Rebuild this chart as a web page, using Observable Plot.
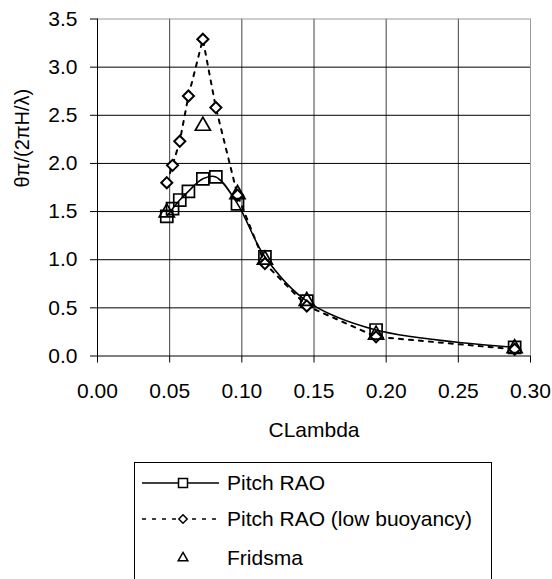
<!DOCTYPE html>
<html>
<head>
<meta charset="utf-8">
<script src="https://cdn.jsdelivr.net/npm/d3@7"></script>
<script src="https://cdn.jsdelivr.net/npm/@observablehq/plot@0.6"></script>
<style>
  html, body { margin: 0; padding: 0; width: 552px; height: 579px; overflow: hidden; background: white; }
  #chart { position: absolute; left: 0; top: 0; }
  #legend { position: absolute; left: 134px; top: 462px; width: 358px; height: 150px; border: 1px solid black; box-sizing: border-box; background: white; }
</style>
</head>
<body>
<div id="chart"></div>
<div id="legend"></div>
<script>
// ---- data ----
const clambda      = [0.048, 0.052, 0.057, 0.063, 0.073, 0.082, 0.097, 0.116, 0.145, 0.193, 0.289];
const pitchRAO     = [1.45, 1.53, 1.62, 1.71, 1.84, 1.86, 1.58, 1.03, 0.57, 0.27, 0.09];
const pitchRAOLow  = [1.80, 1.98, 2.23, 2.70, 3.29, 2.58, 1.67, 0.96, 0.52, 0.20, 0.07];
const fridsmaX     = [0.048, 0.073, 0.097, 0.116, 0.145, 0.193, 0.289];
const fridsmaY     = [1.49, 2.39, 1.68, 1.00, 0.57, 0.22, 0.08];
const xTicks       = [0, 0.05, 0.10, 0.15, 0.20, 0.25, 0.30];
const yTicks       = [0, 0.5, 1.0, 1.5, 2.0, 2.5, 3.0, 3.5];
const seriesNames  = ["Pitch RAO", "Pitch RAO (low buoyancy)", "Fridsma"];
const xLabel = "CLambda";
const yLabel = "θπ/(2πH/λ)";

const pitch = clambda.map((x, i) => ({x, y: pitchRAO[i]}));
const low = clambda.map((x, i) => ({x, y: pitchRAOLow[i]}));
const frid = fridsmaX.map((x, i) => ({x, y: fridsmaY[i]}));

const font = "'Liberation Sans', Arial, sans-serif";

const chart = Plot.plot({
  width: 552,
  height: 440,
  marginLeft: 97,
  marginRight: 22,
  marginTop: 18.5,
  marginBottom: 84.5,
  style: { fontFamily: font, fontSize: "21px", color: "black", background: "white", overflow: "visible" },
  x: { domain: [0, 0.30] },
  y: { domain: [0, 3.5] },
  marks: [
    Plot.gridX(xTicks.slice(1, -1), { stroke: "#404040", strokeOpacity: 1 }),
    Plot.gridY(yTicks.slice(1, -1), { stroke: "black", strokeOpacity: 1 }),
    Plot.ruleX([0.30], { stroke: "#9a9a9a" }),
    Plot.ruleY([3.5], { stroke: "#9a9a9a" }),
    Plot.ruleX([0], { stroke: "black" }),
    Plot.ruleY([0], { stroke: "black" }),
    Plot.axisX({ ticks: xTicks, tickSize: 7, tickPadding: 20, tickFormat: d3.format(".2f"), label: null, fontSize: 21 }),
    Plot.axisY({ ticks: yTicks, tickSize: 7, tickPadding: 13, tickFormat: d3.format(".1f"), label: null, fontSize: 21 }),
    Plot.text([xLabel], { frameAnchor: "bottom", dy: 74, lineAnchor: "middle", fontSize: 21 }),
    Plot.text([yLabel], { frameAnchor: "left", dx: -75, rotate: -90, fontSize: 20 }),
    Plot.line(low, { x: "x", y: "y", stroke: "black", strokeWidth: 2, strokeDasharray: "4,6" }),
    Plot.line(pitch, { x: "x", y: "y", stroke: "black", strokeWidth: 1.6, curve: "catmull-rom" }),
    Plot.dot(pitch, { x: "x", y: "y", symbol: "square", r: 6.8, stroke: "black", strokeWidth: 1.7, fill: "none" }),
    Plot.dot(low, { x: "x", y: "y", symbol: "diamond2", r: 5, stroke: "black", strokeWidth: 2, fill: "white" }),
    Plot.dot(frid, { x: "x", y: "y", symbol: "triangle", r: 5.6, stroke: "black", strokeWidth: 1.7, fill: "none" })
  ]
});
document.getElementById("chart").appendChild(chart);

// ---- legend ----
const leg = d3.select("#legend").append("svg").attr("width", 356).attr("height", 148)
  .style("font-family", font).style("font-size", "21px");
const rows = [
  { name: seriesNames[0], y: 20, dash: null, sym: d3.symbolSquare, size: 81 },
  { name: seriesNames[1], y: 56, dash: "4,6", sym: d3.symbolDiamond2, size: 45 },
  { name: seriesNames[2], y: 95, dash: "none", sym: d3.symbolTriangle, size: 40 }
];
rows.forEach(r => {
  const g = leg.append("g");
  if (r.dash !== "none") {
    g.append("line").attr("x1", 7).attr("x2", 84).attr("y1", r.y).attr("y2", r.y)
      .attr("stroke", "black").attr("stroke-width", 1.5)
      .attr("stroke-dasharray", r.dash);
  }
  g.append("path").attr("d", d3.symbol(r.sym, r.size)())
    .attr("transform", `translate(48,${r.y})`)
    .attr("fill", "white").attr("stroke", "black").attr("stroke-width", 1.5);
  g.append("text").attr("x", 92).attr("y", r.y).attr("dy", "0.35em").text(r.name);
});
</script>
</body>
</html>
